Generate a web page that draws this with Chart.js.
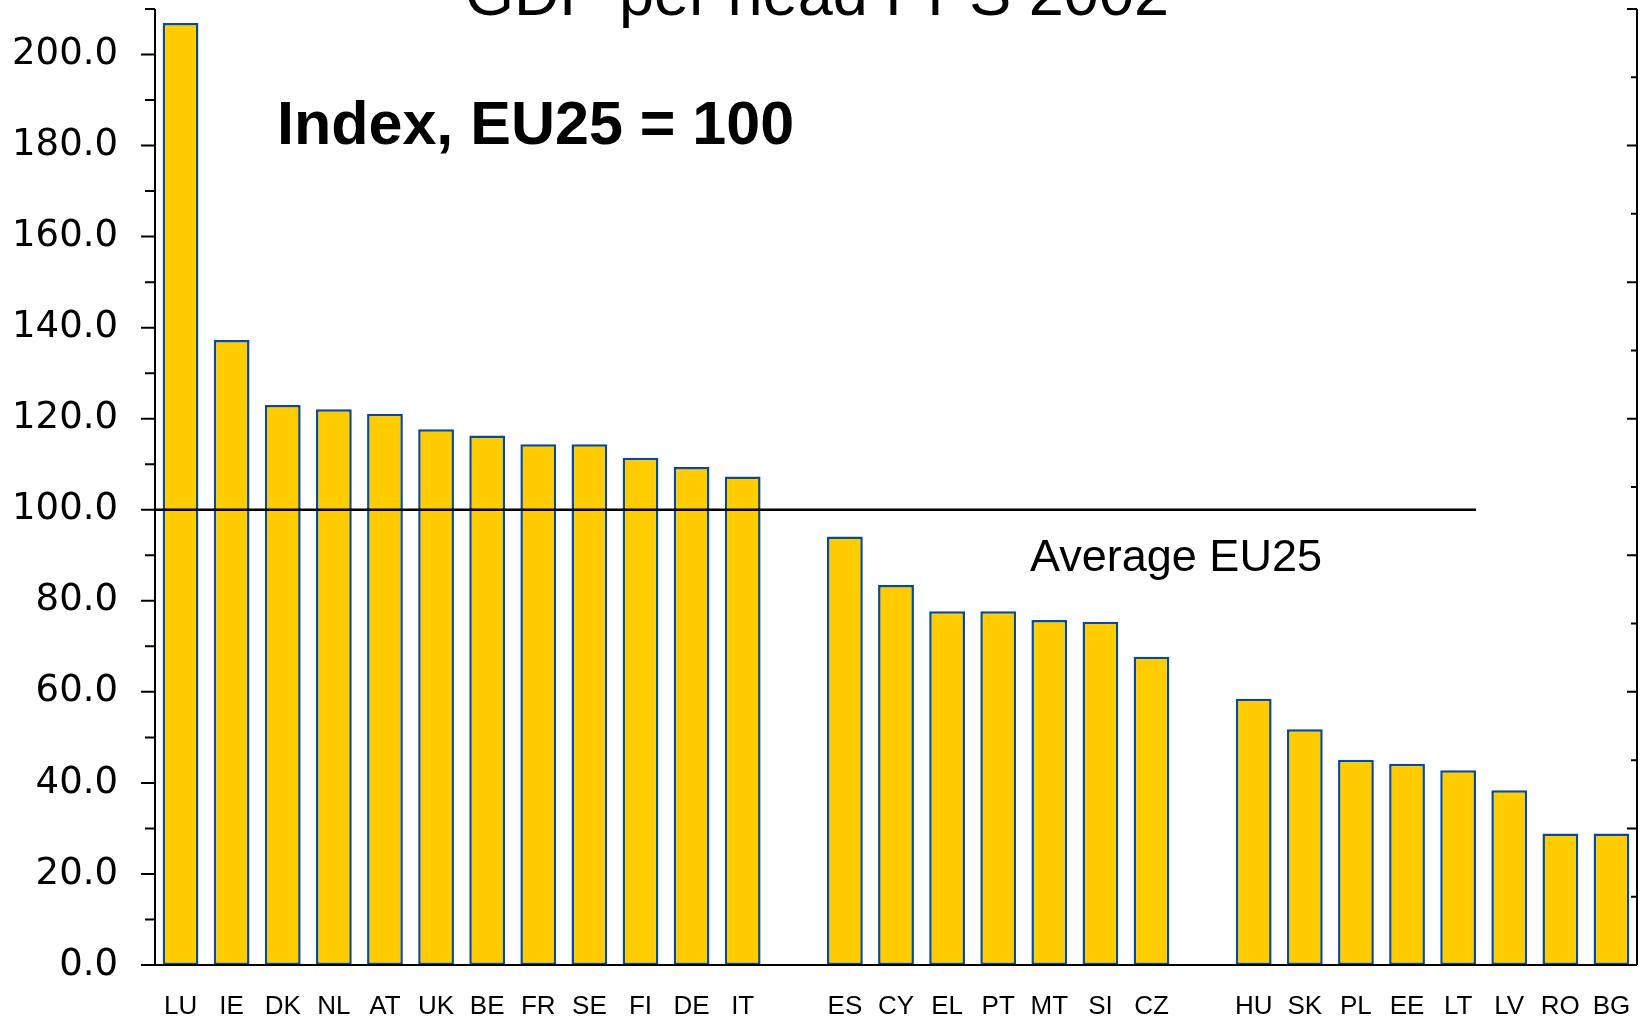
<!DOCTYPE html>
<html lang="en">
<head>
  <meta charset="UTF-8" />
  <title>GDP per head PPS 2002</title>
  <style>
    html, body { margin: 0; padding: 0; background: #fff; }
    .chart-wrap { width: 1650px; height: 1017px; position: relative; }
  </style>
</head>
<body>
<div class="chart-wrap">
  <canvas id="gdpChart"></canvas>
</div>

<script src="https://cdn.jsdelivr.net/npm/chart.js"></script>
<script>
// country codes, empty strings are the gaps between the three groups
const countries = ['LU', 'IE', 'DK', 'NL', 'AT', 'UK', 'BE', 'FR', 'SE', 'FI', 'DE', 'IT', '',
                   'ES', 'CY', 'EL', 'PT', 'MT', 'SI', 'CZ', '',
                   'HU', 'SK', 'PL', 'EE', 'LT', 'LV', 'RO', 'BG'];
const gdpIndex = [206.9, 137.3, 123.0, 122.1, 121.1, 117.7, 116.3, 114.4, 114.4, 111.4, 109.4, 107.3, null,
                  94.1, 83.5, 77.7, 77.7, 75.8, 75.4, 67.7, null,
                  58.5, 51.8, 45.1, 44.2, 42.8, 38.4, 28.9, 28.9];
const yTicks = [0, 20, 40, 60, 80, 100, 120, 140, 160, 180, 200];
const average = 100;
const averageEnd = 'LT'; // the reference line stops at this bar

const titleText = 'GDP per head PPS 2002';
const subtitleText = 'Index, EU25 = 100';
const averageText = 'Average EU25';

// axes get exactly the room we want, no extra label padding
const noPad = s => { s.paddingTop = 0; s.paddingBottom = 0; s.paddingLeft = 0; s.paddingRight = 0; };

// axis lines, tick marks, the EU25 line and the free texts
const overlay = {
  id: 'overlay',
  afterDatasetsDraw(chart) {
    const { ctx, chartArea: a, scales } = chart;
    const y = scales.y, y2 = scales.y2;
    ctx.save();
    ctx.strokeStyle = '#000';
    ctx.lineCap = 'butt';

    // average line
    const meta = chart.getDatasetMeta(0);
    const endBar = meta.data[countries.indexOf(averageEnd)];
    const yAvg = y.getPixelForValue(average);
    ctx.lineWidth = 2.5;
    ctx.beginPath();
    ctx.moveTo(a.left, yAvg);
    ctx.lineTo(endBar.x + endBar.width / 2, yAvg);
    ctx.stroke();

    // left axis + ticks (major every 20, minor every 10)
    ctx.lineWidth = 2;
    ctx.beginPath();
    ctx.moveTo(a.left, a.top);
    ctx.lineTo(a.left, a.bottom);
    ctx.moveTo(a.left - 14, a.bottom);
    ctx.lineTo(a.right, a.bottom);
    ctx.moveTo(a.right, a.top);
    ctx.lineTo(a.right, a.bottom);
    for (let v = 0; v <= y.max; v += 10) {
      const py = y.getPixelForValue(v);
      const len = v % 20 === 0 ? 14 : 10;
      ctx.moveTo(a.left - len, py);
      ctx.lineTo(a.left, py);
    }
    // right axis ticks point inwards (major every 30, minor every 15)
    for (let v = 15; v <= y2.max; v += 15) {
      const py = y2.getPixelForValue(v);
      const len = v % 30 === 0 ? 10 : 6;
      ctx.moveTo(a.right - len, py);
      ctx.lineTo(a.right, py);
    }
    ctx.stroke();

    // texts
    ctx.fillStyle = '#000';
    ctx.textBaseline = 'alphabetic';
    ctx.textAlign = 'center';
    ctx.font = '63px "Liberation Sans", Arial, sans-serif';
    ctx.fillText(titleText, 817, 15);

    ctx.textAlign = 'left';
    ctx.font = 'bold 61px "Liberation Sans", Arial, sans-serif';
    ctx.fillText(subtitleText, 277, 144);

    ctx.textAlign = 'center';
    ctx.font = '45px "Liberation Sans", Arial, sans-serif';
    ctx.fillText(averageText, 1176, 571);
    ctx.restore();
  }
};

new Chart(document.getElementById('gdpChart'), {
  type: 'bar',
  data: {
    labels: countries,
    datasets: [{
      label: 'GDP per head PPS 2002',
      data: gdpIndex,
      backgroundColor: '#FFCC00',
      borderColor: '#0A4A8F',
      borderWidth: 2.5,
      borderSkipped: false,
      barPercentage: 0.7,
      categoryPercentage: 1.0
    }]
  },
  options: {
    responsive: true,
    maintainAspectRatio: false,
    animation: false,
    layout: { padding: { top: 9, left: 0, right: 0, bottom: 0 } },
    plugins: {
      legend: { display: false },
      tooltip: { enabled: false }
    },
    scales: {
      x: {
        offset: true,
        grid: { display: false, drawTicks: false },
        border: { display: false },
        ticks: {
          color: '#000',
          font: { family: '"Liberation Sans", Arial, sans-serif', size: 26 },
          padding: 26,
          autoSkip: false,
          maxRotation: 0
        },
        afterFit: s => { s.height = 52; noPad(s); }
      },
      y: {
        position: 'left',
        min: 0,
        max: 210,
        grid: { display: false, drawTicks: false },
        border: { display: false },
        ticks: {
          stepSize: 10,
          color: '#000',
          font: { family: '"DejaVu Sans", sans-serif', size: 37 },
          padding: 37,
          callback: v => yTicks.includes(v) ? v.toFixed(1) : ''
        },
        afterFit: s => { s.width = 155; noPad(s); }
      },
      y2: {
        position: 'right',
        min: 0,
        max: 210,
        grid: { display: false, drawTicks: false },
        border: { display: false },
        ticks: { display: false, stepSize: 15 },
        afterFit: s => { s.width = 13; noPad(s); }
      }
    }
  },
  plugins: [overlay]
});
</script>
</body>
</html>
